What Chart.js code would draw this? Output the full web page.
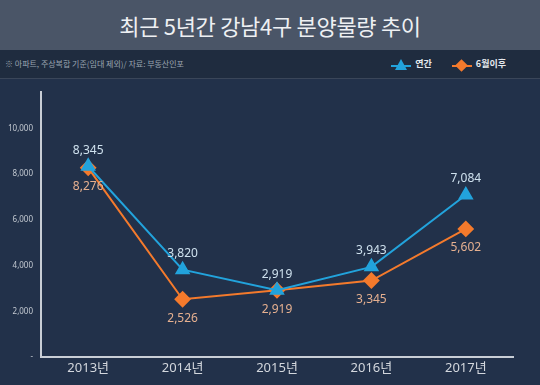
<!DOCTYPE html>
<html>
<head>
<meta charset="utf-8">
<script src="https://cdn.jsdelivr.net/npm/chart.js@4/dist/chart.umd.min.js"></script>
<style>
  html, body { margin: 0; padding: 0; background: #22314a; }
  #wrap { width: 540px; height: 385px; position: relative; background: #22314a; font-family: "Noto Sans CJK KR", "Noto Sans", sans-serif; overflow: hidden; }
  .title { height: 50px; line-height: 50px; background: #4a5567; color: #eef0f3; text-align: center; font-size: 22px; font-weight: 400; letter-spacing: -0.3px; }
  .sub { height: 28px; background: #1f2c3f; border-bottom: 1px solid #3a4659; position: relative; }
  .note { position: absolute; left: 5px; top: 0; line-height: 28px; font-size: 8px; color: #9ba4b0; }
  .legend { position: absolute; right: 34px; top: 0; line-height: 28px; font-size: 9px; font-weight: 700; color: #e6e9ee; }
  .item { display: inline-block; margin-left: 18px; }
  .icon { display: inline-block; position: relative; width: 20px; height: 12px; vertical-align: middle; margin-right: 4px; }
  .icon .ln { position: absolute; left: 0; right: 0; top: 6px; height: 2px; }
  .tri { position: absolute; left: 4px; top: 0; width: 0; height: 0; border-left: 6px solid transparent; border-right: 6px solid transparent; border-bottom: 11px solid #22a3dc; }
  .dia { position: absolute; left: 5px; top: 2px; width: 9px; height: 9px; background: #f47a2c; transform: rotate(45deg); }
  canvas { display: block; }
</style>
</head>
<body>
<div id="wrap">
  <div class="title">최근 5년간 강남4구 분양물량 추이</div>
  <div class="sub">
    <div class="note">※ 아파트, 주상복합 기준(임대 제외)/ 자료: 부동산인포</div>
    <div class="legend">
      <span class="item"><span class="icon"><span class="ln" style="background:#22a3dc"></span><span class="tri"></span></span>연간</span>
      <span class="item"><span class="icon"><span class="ln" style="background:#f47a2c"></span><span class="dia"></span></span>6월이후</span>
    </div>
  </div>
  <div style="width:540px;height:306px;position:relative">
    <canvas id="chart"></canvas>
  </div>
</div>
<script>
var years = ['2013년', '2014년', '2015년', '2016년', '2017년'];
var annual = [8345, 3820, 2919, 3943, 7084];
var afterJune = [8276, 2526, 2919, 3345, 5602];
var yTicks = [0, 2000, 4000, 6000, 8000, 10000];

var fmt = function(v){
	return v.toString().replace(/\B(?=(\d{3})+(?!\d))/g, ',');
};

// value labels above / below each point
var valueLabels = {
	id: 'valueLabels',
	afterDatasetsDraw: function(chart){
		var ctx = chart.ctx;
		ctx.save();
		ctx.font = '12px "Noto Sans", "Noto Sans CJK KR", sans-serif';
		ctx.textAlign = 'center';
		ctx.textBaseline = 'middle';
		chart.data.datasets.forEach(function(ds, i){
			var meta = chart.getDatasetMeta(i);
			meta.data.forEach(function(pt, j){
				ctx.fillStyle = ds.labelColor;
				ctx.fillText(fmt(ds.data[j]), pt.x, pt.y + ds.labelOffset);
			});
		});
		ctx.restore();
	}
};

var ctx = document.getElementById('chart').getContext('2d');
var chart = new Chart(ctx, {
	type: 'line',
	data: {
		labels: years,
		datasets: [{
			label: '연간',
			data: annual,
			borderColor: '#22a3dc',
			backgroundColor: '#22a3dc',
			borderWidth: 2,
			pointStyle: 'triangle',
			pointRadius: 7,
			tension: 0,
			labelColor: '#cfe1ee',
			labelOffset: -16
		}, {
			label: '6월이후',
			data: afterJune,
			borderColor: '#f47a2c',
			backgroundColor: '#f47a2c',
			borderWidth: 2,
			pointStyle: 'rectRot',
			pointRadius: 7,
			tension: 0,
			labelColor: '#e6b090',
			labelOffset: 19
		}]
	},
	options: {
		responsive: true,
		maintainAspectRatio: false,
		animation: false,
		layout: { padding: { left: 0, right: 27, top: 8, bottom: 0 } },
		plugins: {
			legend: { display: false },
			tooltip: { enabled: false }
		},
		scales: {
			x: {
				offset: true,
				grid: { display: false, drawTicks: false },
				border: { display: true, color: '#c9ced6', width: 2 },
				ticks: { color: '#d3d7dd', font: { size: 13, family: '"Noto Sans", "Noto Sans CJK KR", sans-serif' }, padding: 3 },
				afterFit: function(s){ s.height = 28; }
			},
			y: {
				min: 0,
				max: 11600,
				grid: { display: false, drawTicks: false },
				border: { display: true, color: '#c9ced6', width: 2 },
				afterBuildTicks: function(s){
					s.ticks = yTicks.map(function(v){ return { value: v }; });
				},
				ticks: {
					color: '#c3c9d1',
					font: { size: 8, family: '"Noto Sans", sans-serif' },
					padding: 8,
					callback: function(v){ return v === 0 ? '-' : fmt(v); }
				},
				afterFit: function(s){ s.width = 41; }
			}
		}
	},
	plugins: [valueLabels]
});
</script>
</body>
</html>
